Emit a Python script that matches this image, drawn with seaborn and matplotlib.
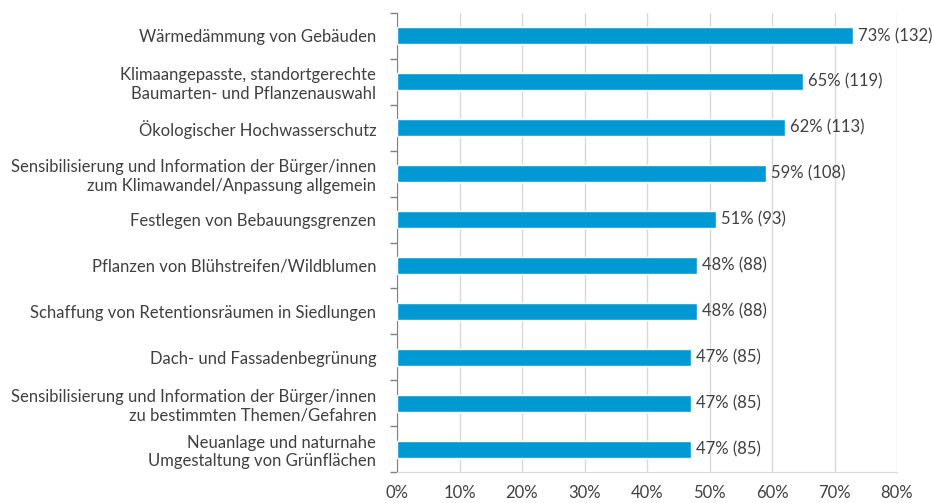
import matplotlib
matplotlib.use("Agg")
import matplotlib.pyplot as plt
import seaborn as sns
import pandas as pd
import numpy as np

categories = [
    "Wärmedämmung von Gebäuden",
    "Klimaangepasste, standortgerechte\nBaumarten- und Pflanzenauswahl",
    "Ökologischer Hochwasserschutz",
    "Sensibilisierung und Information der Bürger/innen\nzum Klimawandel/Anpassung allgemein",
    "Festlegen von Bebauungsgrenzen",
    "Pflanzen von Blühstreifen/Wildblumen",
    "Schaffung von Retentionsräumen in Siedlungen",
    "Dach- und Fassadenbegrünung",
    "Sensibilisierung und Information der Bürger/innen\nzu bestimmten Themen/Gefahren",
    "Neuanlage und naturnahe\nUmgestaltung von Grünflächen",
]
percent = [73, 65, 62, 59, 51, 48, 48, 47, 47, 47]
counts = [132, 119, 113, 108, 93, 88, 88, 85, 85, 85]
x_ticks = [0, 10, 20, 30, 40, 50, 60, 70, 80]

df = pd.DataFrame({"Maßnahme": categories, "Anteil": percent, "Anzahl": counts})

sns.set_style("white")
plt.rcParams["font.family"] = ["Lato", "DejaVu Sans"]
text_color = "#404040"
bar_color = "#0099d4"
fs = 12

fig = plt.figure(figsize=(9.32, 5.03), dpi=100)
ax = fig.add_axes([397 / 932, 31 / 503, 500 / 932, 459 / 503])

sns.barplot(data=df, x="Anteil", y="Maßnahme", color=bar_color, width=0.37,
            saturation=1, ax=ax, zorder=3)

for i, (p, c) in enumerate(zip(percent, counts)):
    ax.text(p + 0.8, i, f"{p}% ({c})", va="center", ha="left",
            fontsize=fs, color=text_color)

ax.set_xlim(0, 80)
ax.set_ylim(len(categories) - 0.5, -0.5)
ax.set_xticks(x_ticks)
ax.set_xticklabels([f"{t}%" for t in x_ticks], fontsize=fs, color=text_color)
ax.grid(axis="x", color="#d9d9d9", linewidth=1, zorder=0)
ax.set_xlabel("")
ax.set_ylabel("")

ax.tick_params(axis="x", length=0, pad=9)
ax.tick_params(axis="y", which="major", left=False, length=0, pad=15,
               labelsize=fs, labelcolor=text_color)
ax.set_yticks(np.arange(-0.5, len(categories), 1), minor=True)
ax.tick_params(axis="y", which="minor", left=True, length=5, width=1,
               color="#808080", direction="out")
for lbl in ax.get_yticklabels():
    lbl.set_horizontalalignment("right")
    lbl.set_multialignment("right")

for side in ["top", "right"]:
    ax.spines[side].set_visible(False)
ax.spines["left"].set_color("#808080")
ax.spines["bottom"].set_color("#d9d9d9")

fig.savefig("out.png", dpi=100)
